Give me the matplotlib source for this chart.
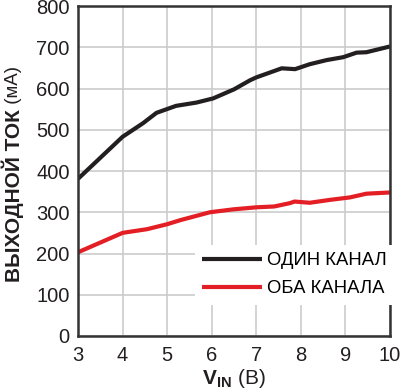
import matplotlib
matplotlib.use('Agg')
import matplotlib.pyplot as plt

plt.rcParams['font.family'] = ['Liberation Sans', 'DejaVu Sans']
plt.rcParams['mathtext.fontset'] = 'custom'
plt.rcParams['mathtext.rm'] = 'Liberation Sans'
plt.rcParams['mathtext.bf'] = 'Liberation Sans:bold'

# data
one_x = [3, 4, 4.46, 4.76, 5.2, 5.66, 6.03, 6.5, 6.86, 7.0, 7.57, 7.87, 8.2, 8.58, 8.95, 9.25, 9.47, 10]
one_y = [381, 483, 516, 541, 558, 566, 576, 598, 620, 627, 649, 647, 659, 669, 676, 687, 688, 702]
both_x = [3, 4, 4.55, 5.0, 5.3, 5.96, 6.48, 7.0, 7.4, 7.75, 7.86, 8.2, 8.65, 9.1, 9.47, 10]
both_y = [203, 250, 259, 271, 281, 300, 307, 312, 314, 322, 326, 323, 330, 336, 345, 348]
labels = ['ОДИН КАНАЛ', 'ОБА КАНАЛА']
x_ticks = [3, 4, 5, 6, 7, 8, 9, 10]
y_ticks = [0, 100, 200, 300, 400, 500, 600, 700, 800]

fig = plt.figure(figsize=(4.0, 3.9), dpi=100)
ax = fig.add_axes([0.195, 0.1385, 0.78, 0.846])

ax.plot(one_x, one_y, color='#231f20', lw=3, label=labels[0], solid_capstyle='butt')
ax.plot(both_x, both_y, color='#e31e24', lw=3, label=labels[1], solid_capstyle='butt')

ax.set_xlim(3, 10)
ax.set_ylim(0, 800)
ax.set_xticks(x_ticks)
ax.set_yticks(y_ticks)
ax.tick_params(length=0, labelsize=14.5, colors='#231f20')
ax.tick_params(axis='x', pad=7)
ax.tick_params(axis='y', pad=6)
ax.grid(True, color='#cccccc', lw=1.2)
ax.set_axisbelow(True)
for s in ax.spines.values():
    s.set_linewidth(1.8)
    s.set_color('#333333')

leg = ax.legend(loc='center left', bbox_to_anchor=(0.375, 0.186), frameon=True,
                fontsize=13.3, handlelength=3.2, handletextpad=0.3,
                labelspacing=0.6, borderpad=0.4, borderaxespad=0)
leg.get_frame().set_facecolor('white')
leg.get_frame().set_edgecolor('none')
leg.get_frame().set_alpha(1)
leg.get_frame().set_boxstyle('square', pad=0)

ax.set_xlabel(r'$\mathbf{V}_\mathbf{IN}$ (В)', fontsize=15, color='#231f20', labelpad=1.5)

yl = fig.text(0.0325, (390 - 282) / 390, 'ВЫХОДНОЙ ТОК', rotation=90,
              fontsize=15, fontweight='bold', color='#231f20', ha='center', va='bottom')
ax.annotate(' (мА)', xy=(0.5, 1), xycoords=yl, rotation=90, fontsize=13.5,
            color='#231f20', ha='center', va='bottom')

fig.savefig('out.png', dpi=100)
